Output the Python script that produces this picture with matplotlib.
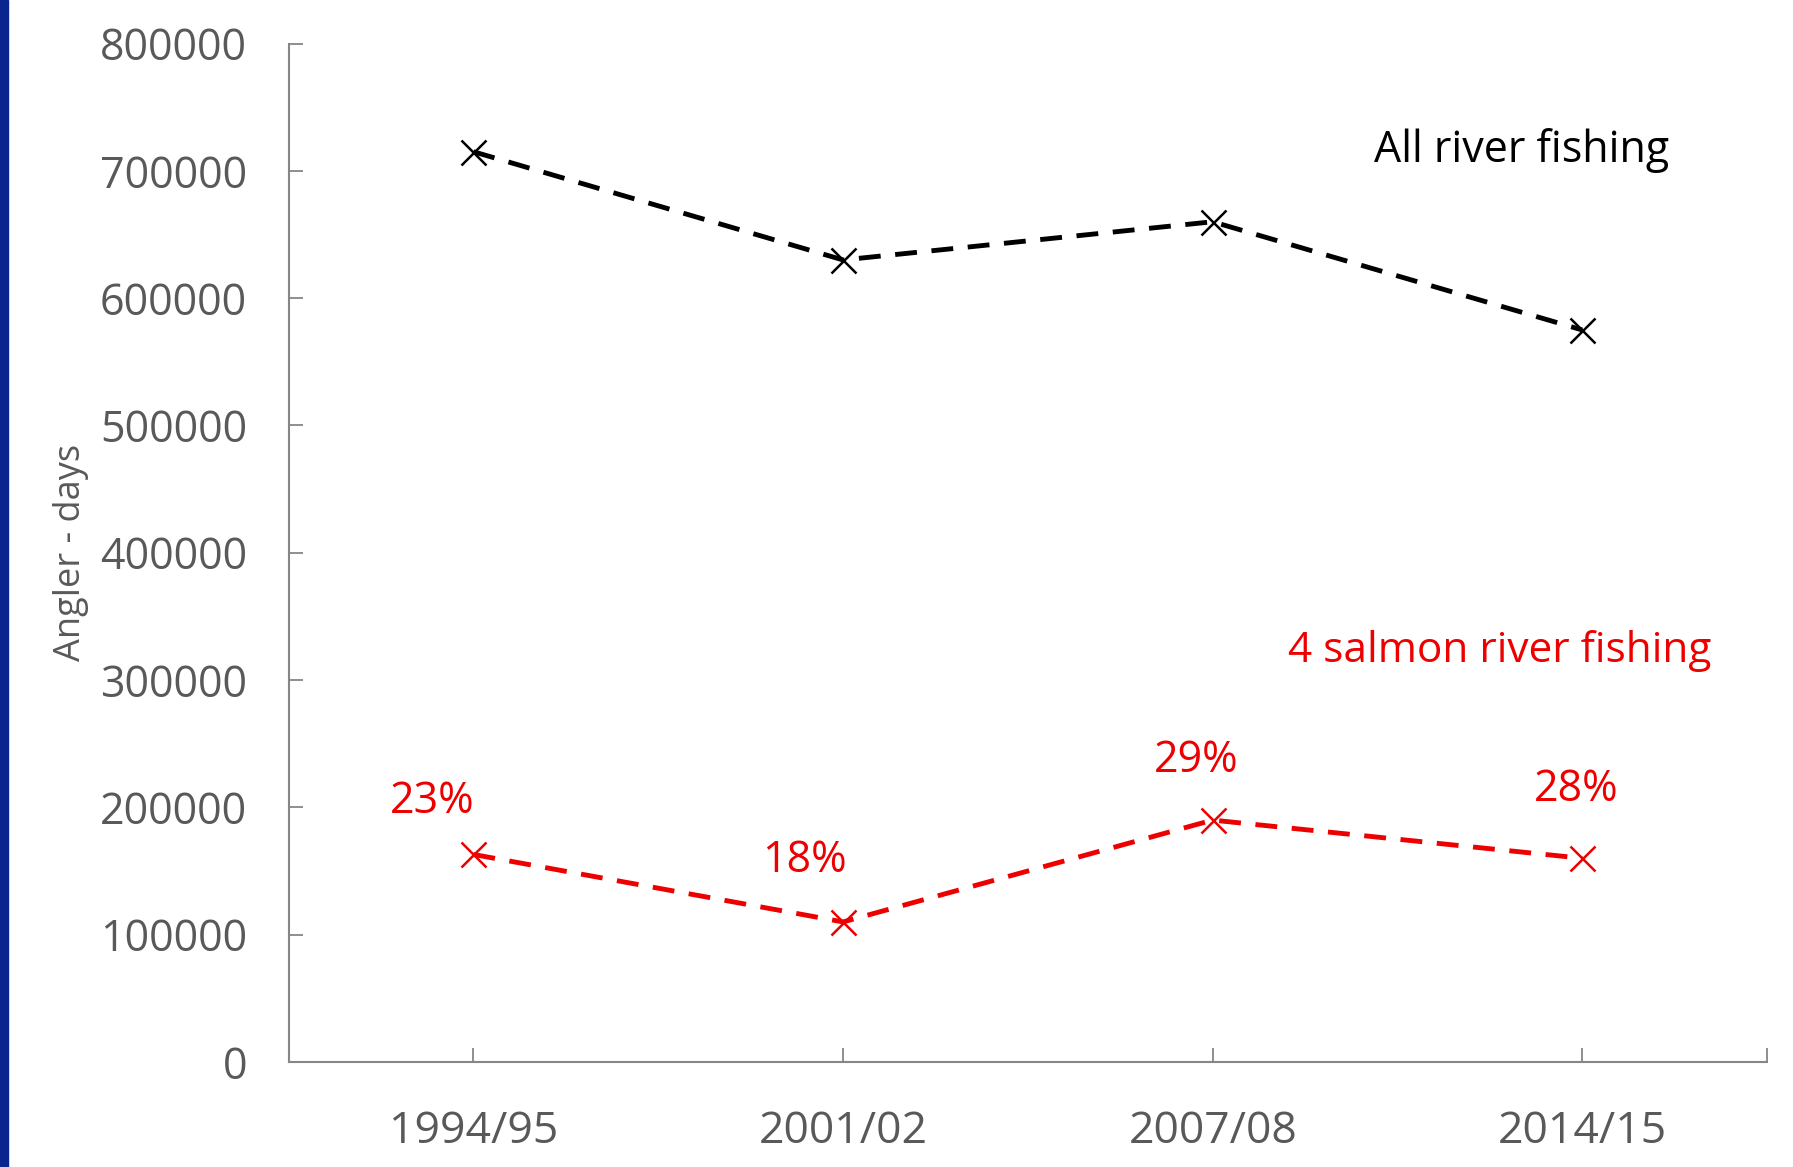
import matplotlib.pyplot as plt
from matplotlib.patches import Rectangle

# datos
seasons = ["1994/95", "2001/02", "2007/08", "2014/15"]
all_river = [715000, 630000, 660000, 575000]
salmon_river = [163000, 110000, 190000, 160000]
pct_labels = ["23%", "18%", "29%", "28%"]

# desplazamiento (puntos) de cada etiqueta respecto a su punto
pct_offsets = [(-30, 38), (-28, 44), (-12, 43), (-4, 49)]

plt.rcParams['font.family'] = ['Open Sans', 'DejaVu Sans']

gray = '#595959'
red = '#EE0000'

fig = plt.figure(figsize=(17.93, 11.67), dpi=100)
ax = fig.add_axes([0.161, 0.09, 0.8245, 0.8727])

x = list(range(len(seasons)))
ax.plot(x, all_river, color='black', lw=3.5, dashes=(4.5, 3),
        marker='x', ms=18, mew=1.8)
ax.plot(x, salmon_river, color=red, lw=3.5, dashes=(4.5, 3),
        marker='x', ms=18, mew=1.8)

for xi, yi, lab, off in zip(x, salmon_river, pct_labels, pct_offsets):
    ax.annotate(lab, (xi, yi), xytext=off, textcoords='offset points',
                ha='center', va='center', color=red, fontsize=31)

ax.text(0.834, 0.895, "All river fishing", transform=ax.transAxes,
        ha='center', va='center', fontsize=31, color='black')
ax.text(0.819, 0.404, "4 salmon river fishing", transform=ax.transAxes,
        ha='center', va='center', fontsize=30.5, color=red)

ax.set_xlim(-0.5, 3.5)
ax.set_ylim(0, 800000)
ax.set_yticks(range(0, 800001, 100000))
ax.set_yticklabels([str(v) for v in range(0, 800001, 100000)])
ax.set_xticks(x)
ax.set_xticklabels(seasons)
ax.set_xticks([3.5], minor=True)
ax.tick_params(axis='x', which='minor', direction='in', length=10,
               width=1.3, color='#868686')

ax.tick_params(axis='both', which='major', direction='in', length=10,
               width=1.3, color='#868686', labelcolor=gray)
ax.tick_params(axis='y', pad=30, labelsize=31)
ax.tick_params(axis='x', pad=34, labelsize=32)

ax.set_ylabel("Angler - days", fontsize=26, color=gray, labelpad=8)

for s in ['top', 'right']:
    ax.spines[s].set_visible(False)
for s in ['left', 'bottom']:
    ax.spines[s].set_color('#868686')
    ax.spines[s].set_linewidth(1.5)

# borde azul a la izquierda
fig.patches.append(Rectangle((0, 0), 0.0045, 1, transform=fig.transFigure,
                             color='#0B2590', zorder=10))

fig.savefig("out.png", dpi=100)
